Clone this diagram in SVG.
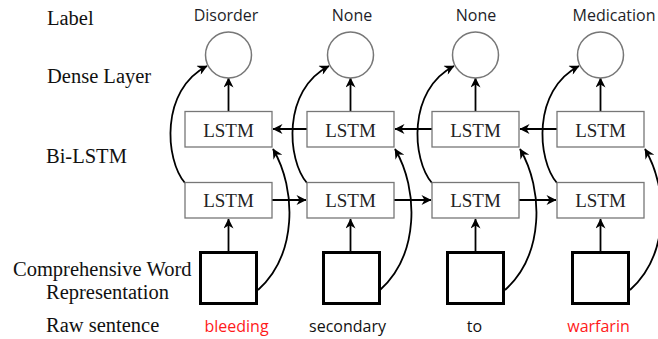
<svg xmlns="http://www.w3.org/2000/svg" width="658" height="339" viewBox="0 0 658 339">
<defs>
<marker id="ah" viewBox="0 0 10 10" refX="9.5" refY="5" markerWidth="11" markerHeight="10" markerUnits="userSpaceOnUse" orient="auto">
<path d="M0,0 L10,5 L0,10 L3,5 z" fill="#000"/>
</marker>
</defs>
<style>
.lbl{font-family:"Liberation Serif","Times New Roman",serif;font-size:20.5px;fill:#111}
.top{font-family:"Open Sans","Liberation Sans",sans-serif;font-size:16px;fill:#1e1e28;text-anchor:middle}
.word{font-family:"Open Sans","Liberation Sans",sans-serif;font-size:16px;fill:#111;text-anchor:middle}
.red{fill:#ff1a1a}
.box{fill:#fff;stroke:#777;stroke-width:1.3}
.boxt{font-family:"Liberation Serif","Times New Roman",serif;font-size:19px;fill:#222;text-anchor:middle}
.circ{fill:#fff;stroke:#777;stroke-width:1.5}
.sq{fill:#fff;stroke:#000;stroke-width:3}
.ar{fill:none;stroke:#000;stroke-width:1.8;marker-end:url(#ah)}
</style>
<rect width="658" height="339" fill="#fff"/>

<g id="row-labels">
<text class="lbl" x="47" y="25">Label</text>
<text class="lbl" x="47" y="83">Dense Layer</text>
<text class="lbl" x="46" y="163">Bi-LSTM</text>
<text class="lbl" x="13" y="276">Comprehensive Word</text>
<text class="lbl" x="46" y="299">Representation</text>
<text class="lbl" x="46" y="332">Raw sentence</text>
</g>

<g id="top-labels">
<text class="top" x="226" y="21">Disorder</text>
<text class="top" x="352" y="21">None</text>
<text class="top" x="476" y="21">None</text>
<text class="top" x="614" y="21">Medication</text>
</g>

<g id="connectors">
<line class="ar" x1="228.5" y1="251" x2="228.5" y2="219"/>
<line class="ar" x1="228.5" y1="111" x2="228.5" y2="78"/>
<line class="ar" x1="350.5" y1="251" x2="350.5" y2="219"/>
<line class="ar" x1="350.5" y1="111" x2="350.5" y2="78"/>
<line class="ar" x1="475.5" y1="251" x2="475.5" y2="219"/>
<line class="ar" x1="475.5" y1="111" x2="475.5" y2="78"/>
<line class="ar" x1="600.5" y1="251" x2="600.5" y2="219"/>
<line class="ar" x1="600.5" y1="111" x2="600.5" y2="78"/>
<line class="ar" x1="307" y1="129" x2="273" y2="129"/>
<line class="ar" x1="432" y1="129" x2="395" y2="129"/>
<line class="ar" x1="557" y1="129" x2="520" y2="129"/>
<line class="ar" x1="272" y1="200" x2="306" y2="200"/>
<line class="ar" x1="394" y1="200" x2="431" y2="200"/>
<line class="ar" x1="519" y1="200" x2="556" y2="200"/>
<path class="ar" d="M258,290 C297,255 297,190 273,149"/>
<path class="ar" d="M380,290 C419,255 419,190 395,149"/>
<path class="ar" d="M505,290 C544,255 544,190 520,149"/>
<path class="ar" d="M630,290 C669,255 669,190 645,149"/>
<path class="ar" d="M185,183 C165,160 160,90 207,66"/>
<path class="ar" d="M307,183 C287,160 282,90 329,66"/>
<path class="ar" d="M432,183 C412,160 407,90 454,66"/>
<path class="ar" d="M557,183 C537,160 532,90 579,66"/>
</g>

<g id="col1">
<circle class="circ" cx="228.5" cy="55" r="23"/>
<rect class="box" x="185" y="111.5" width="87" height="35.5"/>
<text class="boxt" x="228.5" y="137">LSTM</text>
<rect class="box" x="185" y="182.5" width="87" height="35.5"/>
<text class="boxt" x="228.5" y="207">LSTM</text>
<rect class="sq" x="200.5" y="252.5" width="56" height="51"/>
<text class="word red" x="236.5" y="332">bleeding</text>
</g>

<g id="col2">
<circle class="circ" cx="350.5" cy="55" r="23"/>
<rect class="box" x="307" y="111.5" width="87" height="35.5"/>
<text class="boxt" x="350.5" y="137">LSTM</text>
<rect class="box" x="307" y="182.5" width="87" height="35.5"/>
<text class="boxt" x="350.5" y="207">LSTM</text>
<rect class="sq" x="323.5" y="252.5" width="56" height="51"/>
<text class="word" x="347.5" y="332">secondary</text>
</g>

<g id="col3">
<circle class="circ" cx="475.5" cy="55" r="23"/>
<rect class="box" x="432" y="111.5" width="87" height="35.5"/>
<text class="boxt" x="475.5" y="137">LSTM</text>
<rect class="box" x="432" y="182.5" width="87" height="35.5"/>
<text class="boxt" x="475.5" y="207">LSTM</text>
<rect class="sq" x="447.5" y="252.5" width="56" height="51"/>
<text class="word" x="474.5" y="332">to</text>
</g>

<g id="col4">
<circle class="circ" cx="600.5" cy="55" r="23"/>
<rect class="box" x="557" y="111.5" width="87" height="35.5"/>
<text class="boxt" x="600.5" y="137">LSTM</text>
<rect class="box" x="557" y="182.5" width="87" height="35.5"/>
<text class="boxt" x="600.5" y="207">LSTM</text>
<rect class="sq" x="572.5" y="252.5" width="56" height="51"/>
<text class="word red" x="598.5" y="332">warfarin</text>
</g>
</svg>
